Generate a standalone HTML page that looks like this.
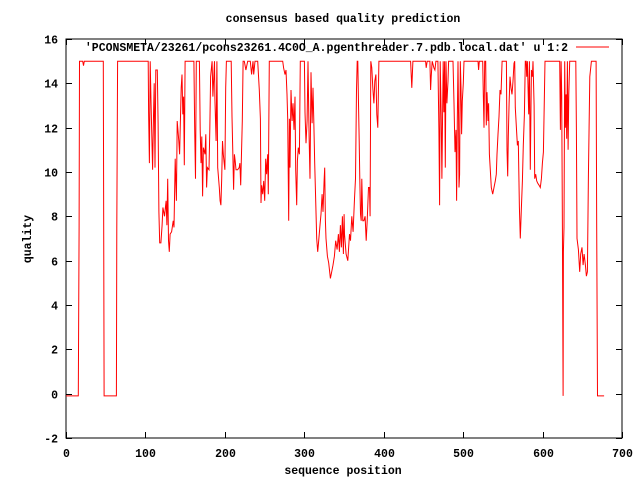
<!DOCTYPE html>
<html><head><meta charset="utf-8"><style>
body{margin:0;background:#fff;}
svg{display:block;font-family:"Liberation Mono",monospace;font-weight:bold;font-size:11.5px;}
</style></head><body>
<svg id="chart" width="640" height="480" xmlns="http://www.w3.org/2000/svg">
<text x="343" y="22" text-anchor="middle">consensus based quality prediction</text>
<text x="343" y="474" text-anchor="middle">sequence position</text>
<text x="0" y="0" text-anchor="middle" transform="translate(31,239) rotate(-90)">quality</text>
<g id="axes"></g>
<text x="568" y="51" text-anchor="end">'PCONSMETA/23261/pcons23261.4C0O_A.pgenthreader.7.pdb.local.dat' u 1:2</text>
<line x1="576" y1="47" x2="609" y2="47" stroke="#f00" stroke-width="1"/>
<polyline id="series" fill="none" stroke="#f00" stroke-width="1"/>
</svg>
<script>
const xTicks=[0,100,200,300,400,500,600,700];
const yTicks=[-2,0,2,4,6,8,10,12,14,16];
const positions=[0,15.5,16.5,17,21,22,23,47,47.5,48,63.5,64,65,98,103.5,104,105,106,107,109,110,111,112,113,115,116,117,118,119.5,121,122,124,126,127,128,129,130,131,133,135,136,137.5,139,140,142,143,145,146,147,148,149,150,161,162,163,164,168,169,170,171,172,173,175,176,177,178,180,181,182,184,185,187,187.5,189,190,191,193,194,195,196,197,198,200,201,202,208,209,210,211,212,213,214,216,218,219,220,222,223,
224.5,226.5,228.7,232,233.7,235.4,236.3,238,241.4,243.4,244.7,245.5,246.3,247.6,248.9,250.1,251.4,252.6,253.9,254.7,256,272.8,274,275.7,277,278.3,279.1,280.4,281.2,282,283.3,284.6,285.8,287.1,288.3,289.2,290.4,291.3,292.5,293.8,295,300.1,300.9,302.2,303.5,304.7,306,307.2,308.5,309.8,311,311.9,313.1,314.4,315.6,316.9,318.2,319.8,321.1,322.4,323.6,324.9,325.7,326.6,327.4,329.1,330.8,332.9,334.5,336.2,337.9,339.6,341.3,342.9,344.2,345.5,346.7,348,349.2,350.1,
350.6,352.7,354.8,356.9,358.2,359.8,361.5,363.2,364.5,365.7,366.6,367.4,368.2,369.1,369.9,370.8,371.6,372.4,373.7,375,376.6,377.9,379.2,380.8,382.1,382.9,383.8,385,386.3,387.6,388.8,390.1,391.3,392.6,393.9,433.8,434.6,435.4,436.7,452.7,453.5,454.8,458.1,459,459.8,461,463.2,464.4,465.7,468.2,469.5,470.3,471.1,472.4,473.2,474.1,474.9,475.8,
476.7,477.5,478.4,479.6,480.9,481.7,487.2,488.5,489.7,491,491.8,492.7,493.5,494.3,494.8,495.6,496.4,497.3,498.1,499,500.2,501.1,518.7,519.5,520.4,524.6,525.4,526.3,527.1,528.4,529.2,530,531.3,532.1,533,534.2,535.5,537.2,538.9,540.5,541.8,542.6,543.9,545.2,546.4,547.7,549,554.4,555.2,556.1,556.9,557.8,559,560.3,561.5,562.8,564,564.9,565.7,567,568.3,569.5,570.8,572,573.3,574.6,575.8,577.1,578.3,579.2,580,580.9,582.5,583.4,584.6,585.9,587.2,588,589.3,590.1,591.4,592.6,593.9,595.6,597.2,598.5,599.8,601,601.9,
603,621.6,622.4,623.3,624.1,625,625.8,626.2,627,627.9,628.7,629.6,630.4,631.3,632.1,633,634.2,641.8,642.6,643.4,645.1,646.8,648,649.7,651,652.3,653.9,655.2,656.5,657.7,659.4,661.5,667.4,668.2,669.1,677.5];
const quality=[-0.1,-0.1,7.5,15,15,14.8,15,15,7.5,-0.1,-0.1,7.5,15,15,15,12.7,10.4,15,13.2,10.1,12.3,14.0,10.2,14.6,14.6,12.2,8.2,6.8,6.8,7.6,8.4,8.0,8.7,7.6,9.7,6.9,6.4,7.2,7.3,7.8,7.5,10.6,8.7,12.3,11.4,10.8,13.8,14.4,12.6,13.4,10.3,15,15,11.9,9.7,15,15,11.9,10.4,11.6,8.9,11.1,10.8,11.7,9.3,10.2,10.1,11.9,14.3,15,13.4,15,13.3,11.4,15,10.2,9.3,8.7,8.5,9.7,11.4,10.8,10.1,13.8,15,15,12.5,10.9,9.2,10.8,10.5,10.1,10.1,10.2,10.4,9.4,12.3,15,
15,14.6,15,15,14.4,15,14.4,15,15,13.7,12.4,8.6,9.4,9.0,9.6,8.7,10.6,9.9,10.8,9.0,15,15,14.7,14.4,14.6,13.5,12.4,7.8,12.4,10.2,13.7,12.3,13.1,11.9,13.4,10.1,8.5,10.5,11.1,10.8,15,15,12.7,11.3,12.3,15,11.6,9.7,14.5,12.2,13.8,12.5,10.4,8.7,7.0,6.4,6.9,7.6,8.1,9.0,8.2,9.6,10.2,7.8,7.0,6.2,5.9,5.2,5.5,5.8,6.2,6.9,6.5,7.2,6.4,7.6,6.6,8.0,6.3,8.1,
7.2,6.3,6.0,7.2,6.9,8.0,7.3,8.8,9.7,13.7,15,15,13.1,11.4,9.7,8.1,7.8,9.7,7.8,7.8,8.0,6.9,7.8,9.3,9.3,8.0,15,14.7,13.8,13.1,14.1,14.4,12.6,12.0,15,15,14.4,13.8,15,15,14.7,15,15,13.7,14.3,15,14.7,14.6,15,15,11.9,8.5,15,12.5,9.7,12.6,15,12.7,
15,10.2,15,13.1,14.1,15,15,13.1,10.9,11.9,8.7,12.3,15,12.3,9.3,9.9,15,13.8,11.7,13.2,14.0,15,15,14.6,15,15,13.5,12.0,15,15,12.1,13.6,12.3,13.1,10.8,10.1,9.3,9.0,9.3,9.6,9.9,10.8,11.7,12.5,13.7,13.5,15,15,11.0,9.8,11.6,13.1,14.3,13.8,13.5,14.1,14.9,15,12.9,12.0,11.2,11.4,8.4,7.0,8.4,9.6,11.2,12.6,15,15,14.3,15,12.6,15,10.1,14.6,14.3,15,13.0,9.7,9.9,9.6,9.5,9.4,9.3,9.7,10.4,10.9,12.7,
15,15,11.9,15,13.5,7.5,-0.1,6.4,7.5,15,12.0,13.5,11.5,15,11.0,13.5,15,15,11.9,7.0,6.5,5.5,6.3,6.6,5.8,6.3,5.8,5.3,5.5,9.8,14.3,15,15,7.5,-0.1,-0.1];

const L=66,R=622,T=39,B=438;
const xMin=0,xMax=700,yMin=-2,yMax=16;
function sx(v){return L+(v-xMin)/(xMax-xMin)*(R-L);}
function sy(v){return B-(v-yMin)/(yMax-yMin)*(B-T);}
const NS='http://www.w3.org/2000/svg';
const axes=document.getElementById('axes');
function mk(tag,attrs){const e=document.createElementNS(NS,tag);for(const k in attrs)e.setAttribute(k,attrs[k]);axes.appendChild(e);return e;}
const frame=mk('rect',{x:L,y:T,width:R-L,height:B-T,fill:'none',stroke:'#000','stroke-width':1});


xTicks.forEach(t=>{
  const x=Math.round(sx(t))+0.5;
  const a=mk('line',{x1:x,y1:B,x2:x,y2:B-6,stroke:'#000'});
  
  
  const b=mk('line',{x1:x,y1:T,x2:x,y2:T+6,stroke:'#000'});
  
  
  const l=mk('text',{x:x,y:B+19,'text-anchor':'middle'});
  l.textContent=t;
  
  
});
yTicks.forEach(t=>{
  const y=Math.round(sy(t))+0.5;
  const a=mk('line',{x1:L,y1:y,x2:L+6,y2:y,stroke:'#000'});
  
  
  const b=mk('line',{x1:R,y1:y,x2:R-6,y2:y,stroke:'#000'});
  
  
  const l=mk('text',{x:58,y:y+4,'text-anchor':'end'});
  l.textContent=t;
  
  
});
const n=Math.min(positions.length,quality.length);
const pts=[];
for(let i=0;i<n;i++)pts.push(sx(positions[i]).toFixed(1)+','+sy(quality[i]).toFixed(1));
document.getElementById('series').setAttribute('points',pts.join(' '));
</script>
</body></html>
